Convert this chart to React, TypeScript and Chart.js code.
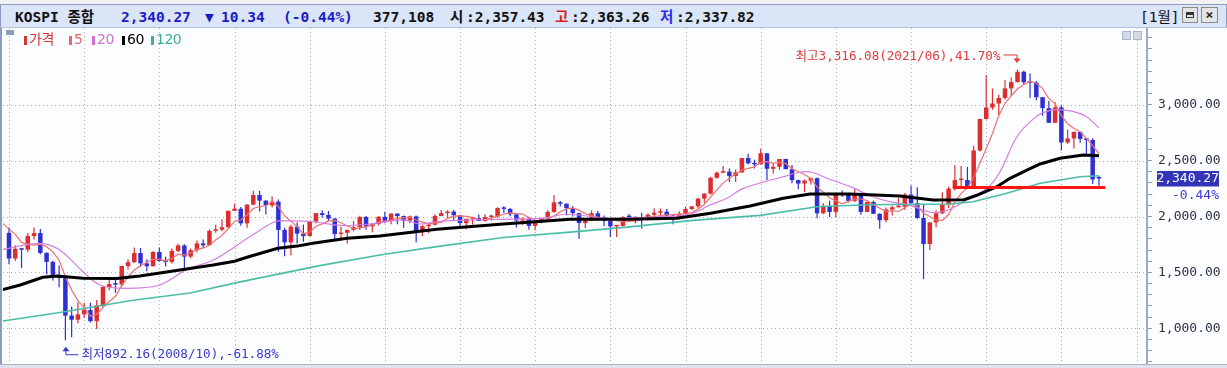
import React, { useEffect, useRef } from "react";
import { Chart, registerables } from "chart.js";
Chart.register(...registerables);

// Monthly KOSPI candles, 2008/01 .. 2022/07
const opens = [
  1853, 1624, 1711, 1703, 1825, 1852, 1674, 1594, 1474, 1448, 1113, 1076,
  1124, 1162, 1063, 1206, 1369, 1395, 1390, 1557, 1591, 1673, 1580, 1555,
  1682, 1602, 1594, 1692, 1741, 1641, 1698, 1759, 1742, 1872, 1882, 1904,
  2051, 2069, 1939, 2107, 2192, 2142, 2100, 2133, 1880, 1769, 1909, 1847,
  1825, 1955, 2030, 2014, 1981, 1843, 1854, 1881, 1905, 1996, 1912, 1932,
  1997, 1961, 2026, 2004, 1963, 2001, 1863, 1914, 1926, 2005, 2030, 2044,
  2011, 1941, 1980, 1985, 1961, 1995, 2002, 2076, 2068, 2020, 1964, 1980,
  1916, 1949, 1985, 2041, 2127, 2114, 2074, 2030, 1941, 1963, 2029, 1991,
  1961, 1912, 1916, 1995, 1994, 1983, 1970, 2016, 2034, 2043, 2008, 1983,
  2026, 2067, 2091, 2160, 2205, 2347, 2392, 2402, 2363, 2394, 2523, 2476,
  2467, 2566, 2427, 2445, 2515, 2423, 2326, 2295, 2322, 2343, 2029, 2096,
  2041, 2204, 2195, 2140, 2203, 2041, 2130, 2024, 1967, 2063, 2083, 2087,
  2197, 2119, 1987, 1754, 1947, 2029, 2108, 2249, 2326, 2327, 2267, 2591,
  2873, 2976, 3012, 3061, 3147, 3203, 3296, 3202, 3199, 3068, 2970, 2839,
  2977, 2663, 2699, 2757, 2695, 2685, 2345,
];
const highs = [
  1901, 1742, 1711, 1852, 1901, 1888, 1680, 1603, 1561, 1459, 1195, 1232,
  1228, 1228, 1253, 1376, 1432, 1434, 1560, 1618, 1723, 1718, 1617, 1692,
  1723, 1640, 1713, 1757, 1752, 1713, 1786, 1795, 1883, 1927, 1975, 2052,
  2115, 2085, 2110, 2231, 2229, 2146, 2180, 2153, 1900, 1926, 1947, 1927,
  1955, 2030, 2057, 2049, 1986, 1908, 1880, 1962, 2007, 2005, 1939, 2004,
  2042, 2027, 2030, 2008, 2010, 2008, 1923, 1941, 2020, 2059, 2057, 2059,
  2013, 1980, 1987, 2019, 2020, 2016, 2082, 2092, 2075, 2020, 1992, 1997,
  1972, 1990, 2055, 2190, 2138, 2118, 2095, 2033, 1985, 2055, 2050, 2010,
  1970, 1920, 2005, 2022, 2000, 2034, 2030, 2074, 2073, 2068, 2017, 2048,
  2089, 2095, 2167, 2209, 2355, 2402, 2453, 2429, 2420, 2523, 2562, 2509,
  2607, 2568, 2477, 2510, 2516, 2460, 2330, 2330, 2347, 2350, 2118, 2141,
  2205, 2233, 2200, 2252, 2212, 2132, 2143, 2030, 2080, 2096, 2168, 2210,
  2277, 2262, 2110, 1951, 2055, 2217, 2268, 2458, 2453, 2444, 2634, 2878,
  3266, 3146, 3090, 3220, 3245, 3316, 3305, 3280, 3212, 3070, 3033, 3022,
  2995, 2780, 2760, 2764, 2700, 2701, 2363,
];
const lows = [
  1574, 1601, 1537, 1679, 1793, 1661, 1482, 1426, 1366, 892, 920, 1043,
  1088, 1051, 992, 1187, 1339, 1317, 1372, 1526, 1587, 1550, 1509, 1553,
  1595, 1552, 1580, 1683, 1532, 1627, 1677, 1717, 1738, 1855, 1868, 1900,
  2050, 1917, 1900, 2100, 2045, 2017, 2080, 1684, 1644, 1652, 1759, 1775,
  1820, 1940, 1990, 1957, 1780, 1800, 1758, 1868, 1880, 1882, 1860, 1920,
  1940, 1931, 1930, 1900, 1940, 1770, 1824, 1850, 1920, 2003, 1990, 1960,
  1900, 1886, 1927, 1960, 1952, 1961, 1985, 2031, 2001, 1902, 1925, 1881,
  1876, 1939, 1978, 2034, 2089, 2010, 2000, 1800, 1897, 1960, 1960, 1914,
  1817, 1817, 1910, 1960, 1940, 1892, 1965, 2004, 1989, 1996, 1931, 1970,
  2018, 2059, 2073, 2123, 2197, 2337, 2387, 2310, 2310, 2394, 2468, 2430,
  2465, 2324, 2386, 2417, 2428, 2297, 2243, 2218, 2286, 1985, 2020, 1995,
  1993, 2175, 2125, 2130, 2016, 2040, 2024, 1891, 1949, 2010, 2080, 2058,
  2110, 1980, 1439, 1700, 1903, 2020, 2075, 2230, 2254, 2260, 2260, 2582,
  2869, 2955, 2911, 3047, 3079, 3201, 3180, 3060, 3040, 2901, 2838, 2837,
  2591, 2650, 2608, 2660, 2546, 2291, 2276,
];
const closes = [
  1624, 1711, 1703, 1825, 1852, 1674, 1594, 1474, 1448, 1113, 1076, 1124,
  1162, 1063, 1206, 1369, 1395, 1390, 1557, 1591, 1673, 1580, 1555, 1682,
  1602, 1594, 1692, 1741, 1641, 1698, 1759, 1742, 1872, 1882, 1904, 2051,
  2069, 1939, 2107, 2192, 2142, 2100, 2133, 1880, 1769, 1909, 1847, 1825,
  1955, 2030, 2014, 1981, 1843, 1854, 1881, 1905, 1996, 1912, 1932, 1997,
  1961, 2026, 2004, 1963, 2001, 1863, 1914, 1926, 2005, 2030, 2044, 2011,
  1941, 1980, 1985, 1961, 1995, 2002, 2076, 2068, 2020, 1964, 1980, 1916,
  1949, 1985, 2041, 2127, 2114, 2074, 2030, 1941, 1963, 2029, 1991, 1961,
  1912, 1916, 1995, 1994, 1983, 1970, 2016, 2034, 2043, 2008, 1983, 2026,
  2067, 2091, 2160, 2205, 2347, 2392, 2402, 2363, 2394, 2523, 2476, 2467,
  2566, 2427, 2445, 2515, 2423, 2326, 2295, 2322, 2343, 2029, 2096, 2041,
  2204, 2195, 2140, 2203, 2041, 2130, 2024, 1967, 2063, 2083, 2087, 2197,
  2119, 1987, 1754, 1947, 2029, 2108, 2249, 2326, 2327, 2267, 2591, 2873,
  2976, 3012, 3061, 3147, 3203, 3296, 3202, 3199, 3068, 2970, 2839, 2977,
  2663, 2699, 2757, 2695, 2685, 2332, 2340.27,
];
// closes of 2007/08..2007/12 (just left of the visible range), for the 5-month average
const priorCloses = [1873, 1946, 2064, 1906, 1897];

// Moving-average lines: [month index, value]
const ma20Points = [
  [-1, 1706], [4.9, 1760], [8.1, 1700], [11.8, 1506], [14.5, 1387], [18.8, 1357],
  [24.1, 1387], [28.4, 1525], [32.9, 1618], [38.5, 1820], [42.5, 1955], [44.9, 1960],
  [48.5, 1953], [52.8, 1920], [57.6, 1933], [62.9, 1969], [65.6, 1933], [68.3, 1953],
  [73.6, 1969], [78.9, 1975], [85.2, 1984], [88.8, 2020], [93.2, 1998], [95.9, 1984],
  [103.9, 1998], [107.1, 2005], [109.2, 2029], [111.9, 2103], [114.6, 2163], [117.2, 2252],
  [123.6, 2356], [126.3, 2396], [128.2, 2396], [130.6, 2342], [134.3, 2267], [137.9, 2177],
  [140.6, 2133], [143.8, 2100], [147.5, 2035], [150.2, 2065], [152.9, 2150], [156.1, 2250],
  [158.2, 2400], [160.9, 2714], [163.8, 2885], [166.2, 2950], [168.9, 2950], [171.8, 2900],
  [174, 2795],
];
const ma60Points = [
  [-1, 1345], [1.8, 1387], [5.4, 1456], [7.7, 1467], [11.8, 1447], [17.2, 1445],
  [20.9, 1467], [27.8, 1525], [32.6, 1566], [36, 1600], [38, 1635], [42.9, 1715],
  [46, 1735], [48.5, 1760], [54, 1805], [59.2, 1825], [68.3, 1885], [78.9, 1933],
  [89.6, 1975], [98.7, 1975], [106.6, 1984], [112, 2029], [118.3, 2094], [123.6, 2163],
  [127.9, 2201], [134.3, 2201], [142.2, 2183], [147.5, 2148], [152.5, 2150], [154.5, 2190],
  [157.7, 2267], [159.8, 2342], [162.5, 2416], [164.6, 2470], [167.8, 2521], [171.5, 2551],
  [174, 2545],
];
const ma120Points = [
  [-1, 1064], [8.1, 1140], [19.8, 1250], [28.9, 1315], [36.9, 1415], [49.6, 1560],
  [59.2, 1655], [68.3, 1730], [78.9, 1812], [89.6, 1860], [98.7, 1905], [109.2, 1965],
  [119.9, 2010], [129, 2088], [137, 2105], [150.2, 2112], [153.9, 2132], [159.3, 2208],
  [164.6, 2297], [171, 2356], [174, 2365],
];

const yLabelValues = [1000, 1500, 2000, 2500, 3000];
const yMinorStep = 100;
const yRange = [679.5, 3687.6];
const xRange = [-0.958, 181.67];
const yearStartIndices = [0, 12, 24, 36, 48, 60, 72, 84, 96, 108, 120, 132, 144, 156, 168, 180];
const highNote = { index: 161, value: 3316.08, text: "최고3,316.08(2021/06),41.70%" };
const lowNote = { index: 9, value: 892.16, text: "최저892.16(2008/10),-61.88%" };
const supportLine = { from: 150.7, to: 175, value: 2260 };
const lastPrice = { value: 2340.27, text: "2,340.27", change: "-0.44%" };

const UP = "#dc2e2e";
const DOWN = "#3030d2";
const GRID = "#a9aeb8";
const MONO = '"DejaVu Sans Mono", "Noto Sans CJK KR", monospace';

const fmt = (v: number) =>
  v.toLocaleString("en-US", { minimumFractionDigits: 2, maximumFractionDigits: 2 });

const ma5 = (() => {
  const all = [...priorCloses, ...closes];
  const off = priorCloses.length;
  const out: { x: number; y: number }[] = [];
  for (let i = -1; i < closes.length; i++) {
    const k = i + off;
    const win = all.slice(k - 4, k + 1);
    out.push({ x: i, y: win.reduce((a, b) => a + b, 0) / 5 });
  }
  return out;
})();

const notesPlugin = {
  id: "notes",
  beforeDatasetsDraw(chart: any) {
    // dotted grid lines
    const { ctx, scales, chartArea } = chart;
    const x = scales.x, y = scales.y;
    ctx.save();
    ctx.strokeStyle = GRID;
    ctx.lineWidth = 1;
    ctx.setLineDash([1, 3]);
    yLabelValues.forEach((v) => {
      const py = Math.round(y.getPixelForValue(v)) + 0.5;
      ctx.beginPath();
      ctx.moveTo(chartArea.left, py);
      ctx.lineTo(chartArea.right - 2, py);
      ctx.stroke();
    });
    yearStartIndices.forEach((v) => {
      const px = Math.round(x.getPixelForValue(v)) + 0.5;
      if (px < chartArea.left || px > chartArea.right - 2) return;
      ctx.beginPath();
      ctx.moveTo(px, chartArea.top);
      ctx.lineTo(px, chartArea.bottom);
      ctx.stroke();
    });
    ctx.restore();
  },
  afterDatasetsDraw(chart: any) {
    const { ctx, scales } = chart;
    const x = scales.x, y = scales.y;
    ctx.save();
    // support line
    ctx.strokeStyle = "#ff1414";
    ctx.lineWidth = 3;
    ctx.beginPath();
    const sy = y.getPixelForValue(supportLine.value);
    ctx.moveTo(x.getPixelForValue(supportLine.from), sy);
    ctx.lineTo(x.getPixelForValue(supportLine.to), sy);
    ctx.stroke();

    ctx.font = `12.6px ${MONO}`;
    ctx.textBaseline = "middle";
    // high note
    const hx = x.getPixelForValue(highNote.index);
    const hy = y.getPixelForValue(highNote.value);
    ctx.fillStyle = "#e23a3a";
    ctx.strokeStyle = "#e23a3a";
    ctx.lineWidth = 1;
    ctx.textAlign = "right";
    ctx.fillText(highNote.text, hx - 17, hy - 12.5);
    ctx.beginPath();
    ctx.moveTo(hx - 14, hy - 14.5);
    ctx.lineTo(hx - 0.5, hy - 14.5);
    ctx.lineTo(hx - 0.5, hy - 8);
    ctx.stroke();
    ctx.beginPath();
    ctx.moveTo(hx - 4, hy - 11);
    ctx.lineTo(hx + 3, hy - 11);
    ctx.lineTo(hx - 0.5, hy - 6.5);
    ctx.closePath();
    ctx.fill();

    // low note
    const lx = x.getPixelForValue(lowNote.index);
    const ly = y.getPixelForValue(lowNote.value);
    ctx.fillStyle = "#3a3ac6";
    ctx.strokeStyle = "#3a3ac6";
    ctx.textAlign = "left";
    ctx.fillText(lowNote.text, lx + 16, ly + 14);
    ctx.beginPath();
    ctx.moveTo(lx + 13, ly + 14.5);
    ctx.lineTo(lx + 0.5, ly + 14.5);
    ctx.lineTo(lx + 0.5, ly + 9);
    ctx.stroke();
    ctx.beginPath();
    ctx.moveTo(lx - 3, ly + 11);
    ctx.lineTo(lx + 4, ly + 11);
    ctx.lineTo(lx + 0.5, ly + 6.5);
    ctx.closePath();
    ctx.fill();
    ctx.restore();
  },
  afterDraw(chart: any) {
    const { ctx, scales } = chart;
    const y = scales.y;
    const py = y.getPixelForValue(lastPrice.value);
    ctx.save();
    ctx.fillStyle = "#3434b6";
    ctx.fillRect(1157, py - 7.5, 62, 15.5);
    ctx.fillStyle = "#ffffff";
    ctx.fillRect(1157, py + 8.5, 62, 16);
    ctx.font = `13px ${MONO}`;
    ctx.textBaseline = "middle";
    ctx.textAlign = "right";
    ctx.fillStyle = "#ffffff";
    ctx.fillText(lastPrice.text, 1219, py + 0.5);
    ctx.fillStyle = "#3b3be0";
    ctx.fillText(lastPrice.change, 1219, py + 17.5);
    ctx.restore();
  },
};

export default function App() {
  const canvasRef = useRef<HTMLCanvasElement>(null);

  useEffect(() => {
    document.body.style.margin = "0";
    const canvas = canvasRef.current;
    if (!canvas) return;
    const idx = closes.map((_, i) => i);
    const colors = idx.map((i) => (closes[i] >= opens[i] ? UP : DOWN));
    const pts = (arr: number[][]) => arr.map(([x, v]) => ({ x, y: v }));
    const yTickValues: number[] = [];
    for (let v = Math.ceil(yRange[0] / yMinorStep) * yMinorStep; v <= yRange[1]; v += yMinorStep) yTickValues.push(v);

    const chart = new Chart(canvas, {
      type: "bar",
      data: {
        datasets: [
          {
            type: "line",
            label: "60",
            data: pts(ma60Points),
            borderColor: "#000000",
            borderWidth: 3,
            pointRadius: 0,
            tension: 0,
            order: 1,
          } as any,
          {
            type: "line",
            label: "120",
            data: pts(ma120Points),
            borderColor: "#4cbea6",
            borderWidth: 1.6,
            pointRadius: 0,
            tension: 0,
            order: 2,
          } as any,
          {
            type: "line",
            label: "20",
            data: pts(ma20Points),
            borderColor: "#d67ddf",
            borderWidth: 1.2,
            pointRadius: 0,
            tension: 0.3,
            order: 3,
          } as any,
          {
            type: "line",
            label: "5",
            data: ma5,
            borderColor: "#f07070",
            borderWidth: 1.2,
            pointRadius: 0,
            tension: 0,
            order: 4,
          } as any,
          {
            type: "bar",
            label: "body",
            data: idx.map((i) => ({ x: i, y: [opens[i], closes[i]] })),
            backgroundColor: colors,
            borderWidth: 0,
            grouped: false,
            maxBarThickness: 4.6,
            minBarLength: 1.5,
            order: 5,
          } as any,
          {
            type: "bar",
            label: "wick",
            data: idx.map((i) => ({ x: i, y: [lows[i], highs[i]] })),
            backgroundColor: colors,
            borderWidth: 0,
            grouped: false,
            maxBarThickness: 1.2,
            order: 6,
          } as any,
        ],
      },
      options: {
        responsive: false,
        animation: false,
        devicePixelRatio: 1,
        layout: { padding: { left: 3, right: 0, top: 0, bottom: 0 } },
        plugins: { legend: { display: false }, tooltip: { enabled: false } },
        events: [],
        scales: {
          x: {
            type: "linear",
            min: xRange[0],
            max: xRange[1],
            offset: false,
            ticks: { display: false },
            afterBuildTicks: (s: any) => {
              s.ticks = yearStartIndices.map((v) => ({ value: v }));
            },
            grid: { display: false, offset: false, drawTicks: false },
            border: { display: false },
            afterFit: (s: any) => {
              s.height = 0;
              s.paddingLeft = 0;
              s.paddingRight = 0;
            },
          },
          y: {
            type: "linear",
            position: "right",
            min: yRange[0],
            max: yRange[1],
            afterBuildTicks: (s: any) => {
              s.ticks = yTickValues.map((v) => ({ value: v }));
            },
            ticks: {
              autoSkip: false,
              padding: 6,
              color: "#2e3346",
              font: { family: MONO, size: 13 },
              callback: (v: any) => (yLabelValues.includes(Math.round(Number(v))) ? fmt(Number(v)) : ""),
            },
            grid: {
              drawOnChartArea: false,
              tickColor: "#8d9dbd",
              tickLength: 5,
              tickWidth: 1,
            },
            border: { display: true, color: "#9aaac8", width: 2 },
            afterFit: (s: any) => {
              s.width = 80;
              s.paddingTop = 0;
              s.paddingBottom = 0;
            },
          },
        },
      } as any,
      plugins: [notesPlugin],
    });
    return () => chart.destroy();
  }, []);

  const span = (left: number, text: string, color: string, extra: any = {}) => (
    <span style={{ position: "absolute", left, top: 0, color, whiteSpace: "pre", ...extra }}>{text}</span>
  );

  const legend = [
    { x: 24, label: "가격", color: "#d63434" },
    { x: 69, label: "5", color: "#e36a6a" },
    { x: 92, label: "20", color: "#d070d4" },
    { x: 122, label: "60", color: "#000000" },
    { x: 151, label: "120", color: "#3eae96" },
  ];

  return (
    <div
      style={{
        position: "relative",
        width: 1227,
        height: 368,
        overflow: "hidden",
        background: "#ffffff",
        fontFamily: MONO,
      }}
    >
      {/* top strip */}
      <div style={{ position: "absolute", left: 0, top: 0, width: 1227, height: 4, background: "#f2f2f2" }} />
      {/* title bar */}
      <div
        style={{
          position: "absolute",
          left: 0,
          top: 4,
          width: 1225,
          height: 22,
          background: "#dae5f7",
          borderTop: "1px solid #8c9cc0",
          borderBottom: "1px solid #b4c2dc",
          borderLeft: "1px solid #8c9cc0",
          borderRight: "1px solid #8c9cc0",
        }}
      >
        <div style={{ position: "absolute", left: 0, top: 3, height: 18, width: 1225, fontSize: 14.5, fontWeight: "bold", lineHeight: "18px" }}>
          {span(14, "KOSPI 종합", "#111111")}
          {span(120, "2,340.27", "#1c1cc4")}
          {span(204, "▼", "#1c1cc4")}
          {span(220, "10.34", "#1c1cc4")}
          {span(282, "(-0.44%)", "#1c1cc4")}
          {span(372, "377,108", "#111111")}
          {span(449, "시", "#111111")}
          {span(465, ":2,357.43", "#111111")}
          {span(554, "고", "#e01c1c")}
          {span(570, ":2,363.26", "#111111")}
          {span(659, "저", "#2a2ae6")}
          {span(675, ":2,337.82", "#111111")}
          {span(1139, "[1월]", "#111111", { fontWeight: "normal" })}
        </div>
        <div style={{ position: "absolute", left: 1181, top: 2, width: 16, height: 16, background: "#e4e4e4", border: "1px solid #8a8a8a", boxSizing: "border-box" }}>
          <div style={{ position: "absolute", left: 3, top: 4, width: 8, height: 6, border: "1px solid #333", borderTop: "3px solid #333", boxSizing: "border-box" }} />
        </div>
        <div style={{ position: "absolute", left: 1200, top: 2, width: 17, height: 16, background: "#e4e4e4", border: "1px solid #8a8a8a", boxSizing: "border-box", fontSize: 13, lineHeight: "14px", textAlign: "center", fontWeight: "bold", color: "#222" }}>
          ×
        </div>
      </div>
      {/* chart panel */}
      <div style={{ position: "absolute", left: 0, top: 28, width: 1227, height: 336, background: "#fcfdff" }}>
        <canvas ref={canvasRef} width={1227} height={336} style={{ width: 1227, height: 336, display: "block" }} />
      </div>
      <div style={{ position: "absolute", left: 0, top: 28, width: 2, height: 336, background: "#8c9cc0" }} />
      <div style={{ position: "absolute", left: 0, top: 364, width: 1227, height: 4, background: "#dfe4ec", borderTop: "1px solid #a8b4c8" }} />
      {/* legend */}
      <div style={{ position: "absolute", left: 6, top: 30, width: 8, height: 5, background: "#8d9dbd" }} />
      {legend.map((l) => (
        <React.Fragment key={l.label}>
          <div style={{ position: "absolute", left: l.x, top: 36, width: 3, height: 9, background: l.color }} />
          <div
            style={{
              position: "absolute",
              left: l.x + 5,
              top: 31,
              fontSize: 14,
              lineHeight: "17px",
              color: l.color,
              fontFamily: '"DejaVu Sans", "Noto Sans CJK KR", sans-serif',
              letterSpacing: -0.5,
            }}
          >
            {l.label}
          </div>
        </React.Fragment>
      ))}
      {/* small panel buttons */}
      <div style={{ position: "absolute", left: 1122, top: 31, width: 9, height: 9, background: "#d4dbe6", border: "1px solid #a9b5c9", boxSizing: "border-box" }} />
      <div style={{ position: "absolute", left: 1133, top: 31, width: 9, height: 9, background: "#d4dbe6", border: "1px solid #a9b5c9", boxSizing: "border-box" }} />
    </div>
  );
}
